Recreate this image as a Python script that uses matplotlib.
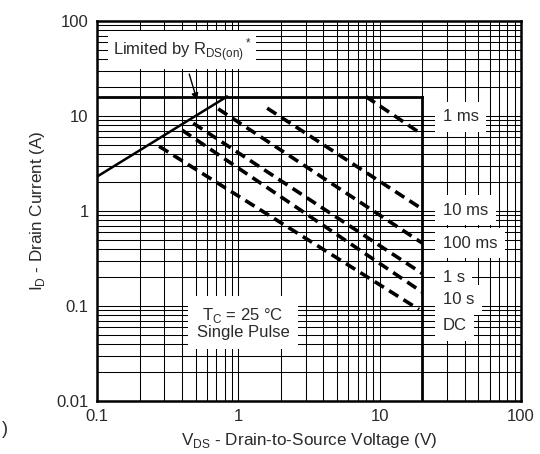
import matplotlib.pyplot as plt
import numpy as np

plt.rcParams['font.family'] = ['Liberation Sans', 'DejaVu Sans']

# pulse lines of the safe operating area (start / end points)
pulse_labels = ['1 ms', '10 ms', '100 ms', '1 s', '10 s', 'DC']
v_start = [8.0, 1.6, 0.72, 0.48, 0.40, 0.275]
i_start = [16.0, 12.1, 11.9, 8.4, 7.1, 4.8]
v_end = [20.0, 20.0, 20.0, 20.0, 20.0, 19.0]
i_end = [6.4, 1.05, 0.46, 0.22, 0.14, 0.092]

# RDS(on) limit and package limits
v_rds = [0.1, 0.83]
i_rds = [2.3, 16.0]
i_max = 16.0
v_max = 20.0

x_ticks = [0.1, 1, 10, 100]
x_ticklabels = ['0.1', '1', '10', '100']
y_ticks = [0.01, 0.1, 1, 10, 100]
y_ticklabels = ['0.01', '0.1', '1', '10', '100']

# where the pulse-width labels sit (A)
label_y = [9.8, 1.02, 0.46, 0.20, 0.116, 0.062]

txt = '#2a2a2a'
plt.rcParams['mathtext.fontset'] = 'custom'
plt.rcParams['mathtext.rm'] = 'Liberation Sans'

fig = plt.figure(figsize=(5.4, 4.54), dpi=100)
ax = fig.add_axes([0.1796, 0.1167, 0.7852, 0.837])
ax.set_xscale('log')
ax.set_yscale('log')
ax.set_xlim(0.1, 100)
ax.set_ylim(0.01, 100)

ax.grid(True, which='both', color='black', linewidth=0.75)
ax.set_axisbelow(True)

ax.set_xticks(x_ticks)
ax.set_xticklabels(x_ticklabels)
ax.set_yticks(y_ticks)
ax.set_yticklabels(y_ticklabels)
ax.tick_params(which='both', length=0, labelsize=12, labelcolor=txt, pad=6)
for s in ax.spines.values():
    s.set_linewidth(1.8)

# limit lines
ax.plot([0.1, v_max], [i_max, i_max], color='black', lw=2.0, zorder=3)
ax.plot([v_max, v_max], [0.01, i_max], color='black', lw=2.0, zorder=3)
ax.plot(v_rds, i_rds, color='black', lw=1.8, zorder=3)

for vs, is_, ve, ie in zip(v_start, i_start, v_end, i_end):
    ax.plot([vs, ve], [is_, ie], color='black', lw=2.6,
            dashes=(3.0, 1.7), zorder=3)

box = dict(boxstyle='square,pad=0.3', fc='white', ec='none')
for lab, y in zip(pulse_labels, label_y):
    ax.text(28, y, lab, fontsize=12, color=txt, va='center', ha='left',
            bbox=dict(boxstyle='square,pad=0.45', fc='white', ec='none'),
            zorder=4)

ax.annotate(r'Limited by R$_{\mathregular{DS(on)}}$$^*$', xy=(0.51, 14.7),
            xytext=(0.4, 49.5), fontsize=12, color=txt,
            ha='center', va='center', bbox=box, zorder=4,
            arrowprops=dict(arrowstyle='-|>', color='black', lw=1.0,
                            shrinkA=4, shrinkB=0, mutation_scale=10))

ax.text(1.08, 0.066, 'T$_\\mathregular{C}$ = 25 °C\nSingle Pulse', fontsize=12,
        color=txt, ha='center', va='center', linespacing=1.05,
        bbox=dict(boxstyle='square,pad=0.5', fc='white', ec='none'), zorder=4)

ax.set_xlabel(r'V$_{\mathregular{DS}}$ - Drain-to-Source Voltage (V)',
              fontsize=12.3, color=txt, labelpad=5)
ax.set_ylabel(r'I$_{\mathregular{D}}$ - Drain Current (A)',
              fontsize=12.3, color=txt, labelpad=7)

fig.text(0.004, 0.045, ')', fontsize=13, color=txt)

fig.savefig('out.png', dpi=100)
